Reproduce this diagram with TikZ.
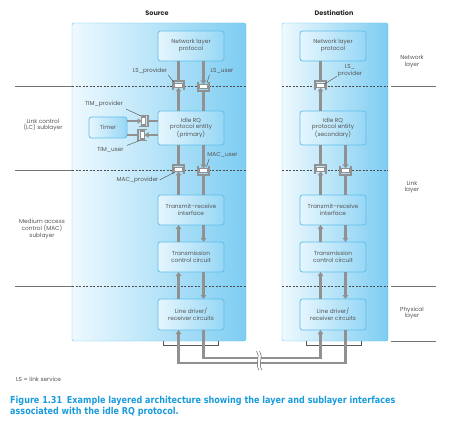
\documentclass[tikz,border=0pt]{standalone}
\usepackage{fontspec}
\setmainfont{Poppins}
\newfontfamily\capfont[FakeStretch=0.85]{DejaVu Sans}
\usetikzlibrary{arrows.meta,calc}
\definecolor{panelL}{RGB}{238,249,254}
\definecolor{panelR}{RGB}{125,205,242}
\definecolor{panelE}{RGB}{95,195,240}
\definecolor{boxL}{RGB}{230,246,254}
\definecolor{boxR}{RGB}{150,215,245}
\definecolor{boxE}{RGB}{95,190,235}
\definecolor{pipegray}{RGB}{145,145,145}
\definecolor{ink}{RGB}{85,85,85}
\definecolor{capblue}{RGB}{25,155,220}
\newcommand{\smallfont}{\fontsize{5.8}{6.8}\selectfont}
\tikzset{
  layerbox/.style={draw=boxE, line width=0.8pt, rounded corners=2.5pt, left color=boxL,
    right color=boxR, minimum width=66pt, minimum height=30pt, align=center,
    font=\smallfont, text=ink, inner sep=1pt, outer sep=0pt},
  sidetext/.style={align=center, font=\smallfont, text=ink},
  saptext/.style={align=center, font=\smallfont, text=ink, inner sep=1pt},
  pipe/.style={draw=pipegray, line width=2.3pt},
  flow/.style={pipe, -{Triangle[length=4pt,width=5.5pt]}},
  leader/.style={draw=ink, line width=0.45pt},
  boundary/.style={draw=black!70, line width=0.6pt, dash pattern=on 2pt off 1.5pt},
  sideline/.style={draw=black!55, line width=0.7pt},
  sapline/.style={draw=pipegray, line width=1.8pt},
  sapinner/.style={draw=pipegray, line width=1.1pt, fill=white},
  sap/.pic={
    \draw[sapline] (-5.5,-4) -- (-5.5,5) -- (5.5,5) -- (5.5,-4);
    \draw[sapinner] (-4,-1.5) rectangle (4,2.5);
    \coordinate (-c) at (0,0);
    \coordinate (-in) at (0,-1.5);
    \coordinate (-out) at (0,5);
  }
}
\begin{document}
\begin{tikzpicture}[x=1pt,y=-1pt]
\useasboundingbox (0,0) rectangle (449,430);
% panels
\draw[panelE, left color=panelL, right color=panelR, rounded corners=2pt] (72,23) rectangle (246,341);
\draw[panelE, left color=panelL, right color=panelR, rounded corners=2pt] (282,23) rectangle (388,341);
\node[font=\fontsize{6.5}{7}\selectfont\bfseries, text=black!85] (src) at (157,13) {Source};
\node[font=\fontsize{6.5}{7}\selectfont\bfseries, text=black!85] (dst) at (334,13) {Destination};
% layer boundaries
\foreach \y in {86,170,286}{
  \draw[boundary] (72,\y) -- (246,\y);
  \draw[boundary] (282,\y) -- (388,\y);
  \draw[sideline] (15,\y) -- (72,\y);
}
\foreach \y in {86,286,341}{
  \draw[sideline] (391,\y) -- (436,\y);
}
\draw[draw=black!65, line width=0.6pt] (163,341) -- (163,345) -- (218,345) -- (218,341);
\draw[draw=black!65, line width=0.6pt] (306,341) -- (306,345) -- (361,345) -- (361,341);
% columns
\coordinate (srcL) at (178.5,0);
\coordinate (srcR) at (203.5,0);
\coordinate (dstL) at (320.5,0);
\coordinate (dstR) at (345.5,0);
\coordinate (wireIn) at (0,358);
\coordinate (wireOut) at (0,363);
% source boxes
\node[layerbox] (neta) at (191,46) {Network layer\\protocol};
\node[layerbox, minimum height=34pt] (rqa) at (191,128) {Idle RQ\\protocol entity\\(primary)};
\node[layerbox] (tria) at (191,210) {Transmit--receive\\interface};
\node[layerbox] (tcca) at (191,257) {Transmission\\control circuit};
\node[layerbox, minimum height=31pt] (lda) at (191,314.5) {Line driver/\\receiver circuits};
\node[layerbox, minimum width=38pt, minimum height=21pt] (timer) at (108,127.5) {Timer};
% destination boxes
\node[layerbox] (netb) at (333,46) {Network layer\\protocol};
\node[layerbox, minimum height=34pt] (rqb) at (333,128) {Idle RQ\\protocol entity\\(secondary)};
\node[layerbox] (trib) at (333,210) {Transmit--receive\\interface};
\node[layerbox] (tccb) at (333,257) {Transmission\\control circuit};
\node[layerbox, minimum height=31pt] (ldb) at (333,314.5) {Line driver/\\receiver circuits};
% interfaces
\pic[rotate=180] (lsp) at (178.5,86) {sap};
\pic (lsu) at (203.5,86) {sap};
\pic[rotate=180] (macp) at (178.5,170) {sap};
\pic (macu) at (203.5,170) {sap};
\pic[rotate=90] (timp) at (143,121) {sap};
\pic[rotate=-90] (timu) at (143,135) {sap};
\pic[rotate=180] (dlsp) at (320.5,86) {sap};
\pic[rotate=180] (dmacp) at (320.5,170) {sap};
\pic (dmacu) at (345.5,170) {sap};
% source connectors
\draw[flow] (rqa.north -| lsp-in) -- (lsp-in);
\draw[pipe] (neta.south -| lsp-out) -- (lsp-out);
\draw[flow] (neta.south -| lsu-in) -- (lsu-in);
\draw[pipe] (lsu-out) -- (rqa.north -| lsu-out);
\draw[flow] (tria.north -| macp-in) -- (macp-in);
\draw[pipe] (rqa.south -| macp-out) -- (macp-out);
\draw[flow] (rqa.south -| macu-in) -- (macu-in);
\draw[pipe] (macu-out) -- (tria.north -| macu-out);
\draw[flow] (timer.east |- timp-in) -- (timp-in);
\draw[pipe] (timp-out) -- (rqa.west |- timp-out);
\draw[flow] (rqa.west |- timu-in) -- (timu-in);
\draw[pipe] (timu-out) -- (timer.east |- timu-out);
\draw[flow] (tcca.north -| srcL) -- (tria.south -| srcL);
\draw[flow] (tria.south -| srcR) -- (tcca.north -| srcR);
\draw[flow] (lda.north -| srcL) -- (tcca.south -| srcL);
\draw[flow] (tcca.south -| srcR) -- (lda.north -| srcR);
% destination connectors
\draw[flow] (rqb.north -| dlsp-in) -- (dlsp-in);
\draw[pipe] (netb.south -| dlsp-out) -- (dlsp-out);
\draw[flow] (trib.north -| dmacp-in) -- (dmacp-in);
\draw[pipe] (rqb.south -| dmacp-out) -- (dmacp-out);
\draw[flow] (rqb.south -| dmacu-in) -- (dmacu-in);
\draw[pipe] (dmacu-out) -- (trib.north -| dmacu-out);
\draw[flow] (tccb.north -| dstL) -- (trib.south -| dstL);
\draw[flow] (trib.south -| dstR) -- (tccb.north -| dstR);
\draw[flow] (ldb.north -| dstL) -- (tccb.south -| dstL);
\draw[flow] (tccb.south -| dstR) -- (ldb.north -| dstR);
% line between the two stations
\draw[flow] (lda.south -| srcR) |- (wireIn -| dstL) -- (ldb.south -| dstL);
\draw[flow] (ldb.south -| dstR) |- (wireOut -| srcL) -- (lda.south -| srcL);
\fill[white] (256.5,351) .. controls (261,356) and (254.5,364) .. (259,370) -- (262,370) .. controls (257.5,364) and (264,356) .. (259.5,351) -- cycle;
\draw[leader] (256.5,351) .. controls (261,356) and (254.5,364) .. (259,370);
\draw[leader] (259.5,351) .. controls (264,356) and (257.5,364) .. (262,370);
% interface labels
\node[saptext] (lsptxt) at (150,71) {LS\_provider};
\node[saptext] (lsutxt) at (222,71) {LS\_user};
\node[saptext] (timptxt) at (104,104) {TIM\_provider};
\node[saptext] (timutxt) at (110.5,150) {TIM\_user};
\node[saptext] (macutxt) at (222.5,155) {MAC\_user};
\node[saptext] (macptxt) at (137.5,180) {MAC\_provider};
\node[saptext] (dlsptxt) at (350,71) {LS\_\\provider};
\draw[leader] (lsptxt.south east) -- ($(lsp-c)+(-4,-3)$);
\draw[leader] (lsutxt.south west) -- ($(lsu-c)+(3.5,-3)$);
\draw[leader] (timptxt.south east) ++(2,1) -- ($(timp-c)+(-3,-5.5)$);
\draw[leader] (timutxt.north east) ++(2,-1) -- ($(timu-c)+(-3,5.5)$);
\draw[leader] (macutxt.south west) ++(3,0) -- ($(macu-c)+(3,-3)$);
\draw[leader] (macptxt.east) -- ($(macp-c)+(-3.5,2)$);
\draw[leader] (dlsptxt.south west) ++(0,-2) -- ($(dlsp-c)+(4,-2)$);
% layer names
\node[sidetext] (lc) at (43,125) {Link control\\(LC) sublayer};
\node[sidetext] (mac) at (42,229) {Medium access\\control (MAC)\\sublayer};
\node[sidetext] (nl) at (412,62) {Network\\layer};
\node[sidetext] (ll) at (412,187) {Link\\layer};
\node[sidetext] (pl) at (412,313) {Physical\\layer};
\node[saptext, anchor=west] (key) at (15,379) {LS = link service};
\node[anchor=north west, align=left, inner sep=0pt, text=capblue,
  font=\capfont\bfseries\fontsize{9.5}{11}\selectfont] (cap) at (10,396)
  {Figure 1.31\enspace Example layered architecture showing the layer and sublayer interfaces\\associated with the idle RQ protocol.};
\end{tikzpicture}
\end{document}
